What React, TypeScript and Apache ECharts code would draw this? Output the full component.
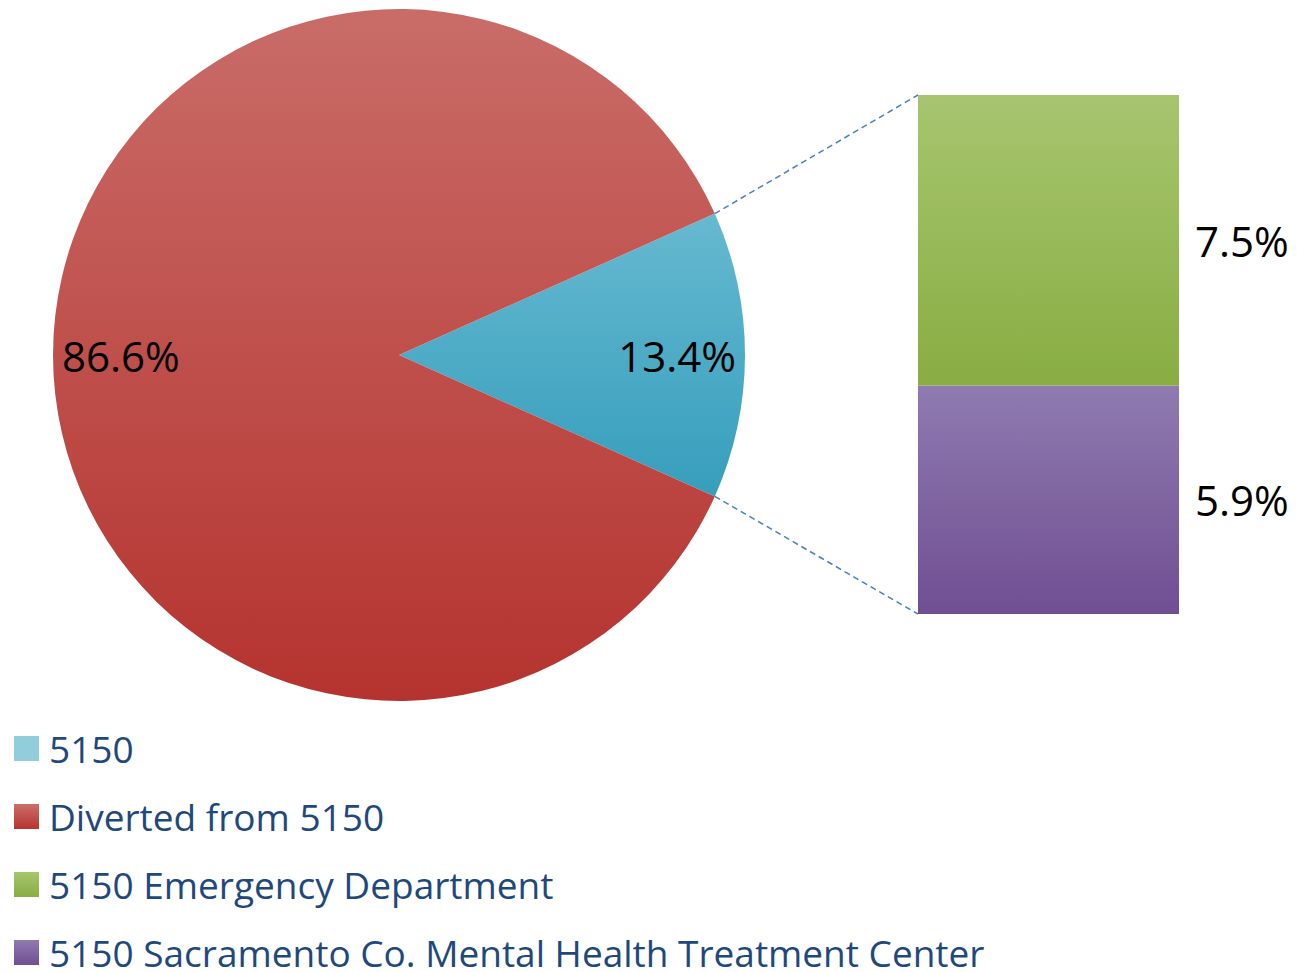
import React, { useEffect, useRef } from "react";
import * as echarts from "echarts";

const pieNames = ["5150", "Diverted from 5150"];
const pieValues = [13.4, 86.6];
const barNames = ["5150 Emergency Department", "5150 Sacramento Co. Mental Health Treatment Center"];
const barValues = [7.5, 5.9];
const legendNames = ["5150", "Diverted from 5150", "5150 Emergency Department", "5150 Sacramento Co. Mental Health Treatment Center"];

const W = 1297, H = 972;
const CX = 399, CY = 355, R = 346;
const BAR_L = 918, BAR_R = 1179, BAR_T = 95, BAR_B = 614;
const FONT = "'Open Sans', 'Noto Sans', sans-serif";

const grad = (top: string, bottom: string) =>
  new echarts.graphic.LinearGradient(0, 0, 0, 1, [
    { offset: 0, color: top },
    { offset: 1, color: bottom },
  ]);

export default function App() {
  const ref = useRef<HTMLDivElement>(null);
  useEffect(() => {
    document.body.style.margin = "0";
    const chart = echarts.init(ref.current!, null, { renderer: "svg" });
    const half = (pieValues[0] / (pieValues[0] + pieValues[1])) * 180;
    const rad = (half * Math.PI) / 180;
    const ex = CX + R * Math.cos(rad);
    const eyTop = CY - R * Math.sin(rad);
    const eyBot = CY + R * Math.sin(rad);
    const pieColors = [grad("#66B9D0", "#369EBC"), grad("#C96C68", "#B5332F")];
    const barColors = [grad("#A7C56F", "#89AD43"), grad("#8F7BB0", "#704E92")];
    const legendColors = ["#92CDDC", grad("#CB6E6A", "#B83330"), grad("#A7C56F", "#89AD43"), grad("#8F7BB0", "#704E92")];
    const pieData = pieNames.map((n, i) => ({ name: n, value: pieValues[i], itemStyle: { color: pieColors[i] } }));
    const total = barValues.reduce((a, b) => a + b, 0);
    const labelStyle = {
      fontFamily: FONT,
      fontSize: 42,
      color: "#000000",
    };
    chart.setOption({
      animation: false,
      backgroundColor: "#ffffff",
      legend: {
        orient: "vertical",
        left: 14,
        top: 730,
        height: 400,
        padding: 0,
        itemWidth: 25,
        itemHeight: 25,
        itemGap: 31,
        icon: "rect",
        textStyle: { fontFamily: FONT, fontSize: 37, lineHeight: 37, color: "#1F497D", padding: [0, 0, 0, 5] },
        data: legendNames.map((n, i) => ({ name: n, itemStyle: { color: legendColors[i] } })),
      },
      grid: { left: BAR_L, right: W - BAR_R, top: BAR_T, bottom: H - BAR_B, containLabel: false },
      xAxis: { type: "category", data: [""], show: false },
      yAxis: { type: "value", min: 0, max: total, show: false },
      series: [
        {
          type: "pie",
          center: [CX, CY],
          radius: [0, R],
          startAngle: half,
          clockwise: true,
          label: { show: false },
          labelLine: { show: false },
          emphasis: { disabled: true },
          data: pieData,
        },
        {
          type: "pie",
          name: "labels",
          center: [CX, CY],
          radius: [R * 0.59, R],
          startAngle: half,
          clockwise: true,
          silent: true,
          legendHoverLink: false,
          itemStyle: { color: "rgba(0,0,0,0)" },
          label: {
            show: true,
            position: "inside",
            formatter: (p: any) => p.value.toFixed(1) + "%",
            ...labelStyle,
          },
          labelLine: { show: false },
          data: pieNames.map((n, i) => ({ name: n + " ", value: pieValues[i] })),
        },
        {
          type: "bar",
          name: barNames[1],
          stack: "s",
          barWidth: "100%",
          data: [barValues[1]],
          itemStyle: { color: barColors[1] },
          label: {
            show: true,
            position: "right",
            distance: 16,
            formatter: (p: any) => p.value.toFixed(1) + "%",
            ...labelStyle,
          },
        },
        {
          type: "bar",
          name: barNames[0],
          stack: "s",
          barWidth: "100%",
          data: [barValues[0]],
          itemStyle: { color: barColors[0] },
          label: {
            show: true,
            position: "right",
            distance: 16,
            formatter: (p: any) => p.value.toFixed(1) + "%",
            ...labelStyle,
          },
        },
      ],
      graphic: [
        {
          type: "line",
          shape: { x1: ex, y1: eyTop, x2: BAR_L, y2: BAR_T },
          style: { stroke: "#4A7EC4", lineWidth: 1.5, lineDash: [6, 4] },
          silent: true,
        },
        {
          type: "line",
          shape: { x1: ex, y1: eyBot, x2: BAR_L, y2: BAR_B },
          style: { stroke: "#4A7EC4", lineWidth: 1.5, lineDash: [6, 4] },
          silent: true,
        },
      ],
    });
    return () => chart.dispose();
  }, []);
  return <div ref={ref} style={{ width: W, height: H }} />;
}
